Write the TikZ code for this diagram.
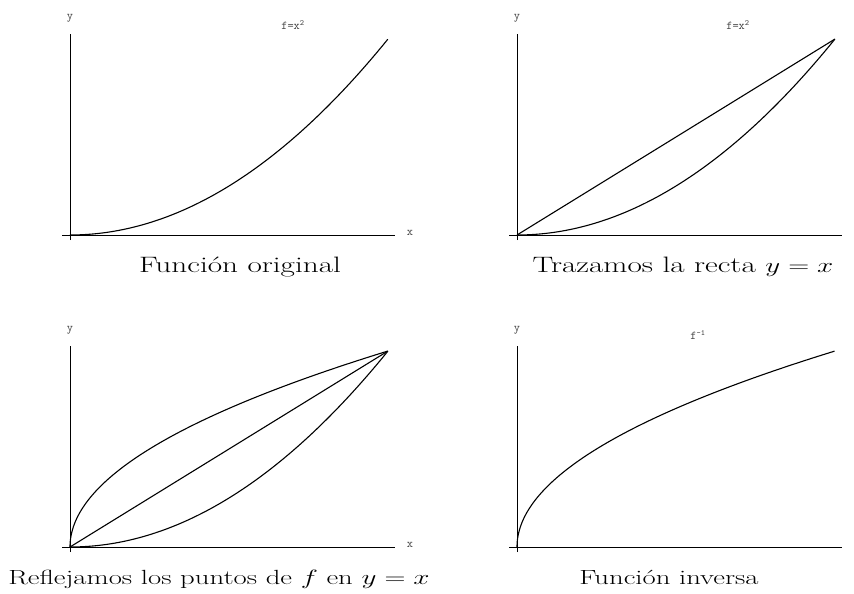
\documentclass[tikz,border=0pt]{standalone}
\usepackage{graphicx}
\usepackage{tikz}

\begin{document}
\begin{tikzpicture}[x=1pt,y=-1pt,
    axisline/.style={line width=0.9pt},
    fcurve/.style={line width=1.1pt},
    lbl/.style={font=\fontsize{12}{14}\selectfont\ttfamily,text=black!75,inner sep=0pt},
    capt/.style={font=\fontsize{20.5}{24}\selectfont,inner sep=0pt,anchor=base},
    captbig/.style={capt,font=\fontsize{22.3}{26}\selectfont}]
  \useasboundingbox (0,0) rectangle (854,594);

  % funcion original
  \begin{scope}[shift={(70,235)}]
    \draw[axisline] (-8,0) -- (325,0);
    \draw[axisline] (0,5) -- (0,-201);
    \draw[fcurve] plot[domain=0:1,samples=80] ({318*\x},{-196*\x*\x});
    \node[lbl] (y1) at (0,-217) {y};
    \node[lbl] (x1) at (340,-2) {x};
    \node[lbl] (f1) at (223,-210) {f=x\textsuperscript{2}};
  \end{scope}
  \node[captbig] (c1) at (240,272) {\scalebox{1.4}[1]{Función original}};

  % recta y=x
  \begin{scope}[shift={(517,235)}]
    \draw[axisline] (-8,0) -- (325,0);
    \draw[axisline] (0,5) -- (0,-201);
    \draw[fcurve] plot[domain=0:1,samples=80] ({318*\x},{-196*\x*\x});
    \draw[fcurve] (0,0) -- (318,-196);
    \node[lbl] (y2) at (0,-217) {y};
    \node[lbl] (x2) at (340,-2) {x};
    \node[lbl] (f2) at (221,-210) {f=x\textsuperscript{2}};
  \end{scope}
  \node[captbig] (c2) at (683,272) {\scalebox{1.4}[1]{Trazamos la recta $y=x$}};

  % reflejo
  \begin{scope}[shift={(70,547)}]
    \draw[axisline] (-8,0) -- (325,0);
    \draw[axisline] (0,5) -- (0,-201);
    \draw[fcurve] plot[domain=0:1,samples=80] ({318*\x},{-196*\x*\x});
    \draw[fcurve] plot[domain=0:1,samples=80] ({318*\x*\x},{-196*\x});
    \draw[fcurve] (0,0) -- (318,-196);
    \node[lbl] (y3) at (0,-217) {y};
    \node[lbl] (x3) at (340,-2) {x};
  \end{scope}
  \node[capt] (c3) at (219,584) {\scalebox{1.4}[1]{Reflejamos los puntos de $f$ en $y=x$}};

  % funcion inversa
  \begin{scope}[shift={(517,547)}]
    \draw[axisline] (-8,0) -- (325,0);
    \draw[axisline] (0,5) -- (0,-201);
    \draw[fcurve] plot[domain=0:1,samples=80] ({318*\x*\x},{-196*\x});
    \node[lbl] (y4) at (0,-217) {y};
    \node[lbl] (x4) at (340,-2) {x};
    \node[lbl] (f4) at (181,-212) {f\textsuperscript{-1}};
  \end{scope}
  \node[capt] (c4) at (669,584) {\scalebox{1.4}[1]{Función inversa}};
\end{tikzpicture}
\end{document}
